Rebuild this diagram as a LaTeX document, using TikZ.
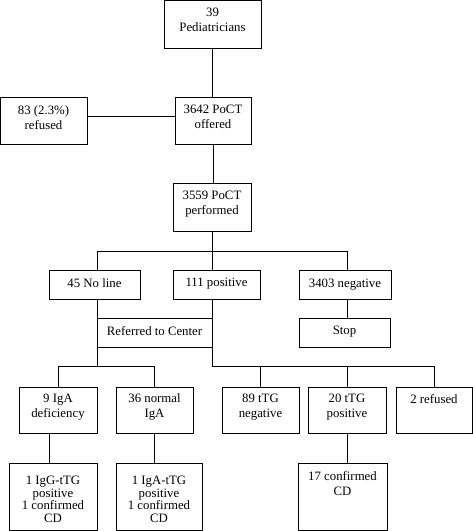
\documentclass[tikz,border=0pt]{standalone}
\usepackage{fontspec}
\setmainfont{Liberation Serif}
\usetikzlibrary{calc}
\tikzset{
  box/.style={draw=black, line width=0.9pt, inner sep=0pt, outer sep=0pt, anchor=north west, font=\fontsize{12.8}{15}\selectfont},
  conn/.style={draw=black, line width=0.9pt}
}
\newcommand{\bx}[8][15]{%
  \pgfmathsetmacro\bw{#4-#2}\pgfmathsetmacro\bh{#5-#3}%
  \node[box] (#6) at (#2,-#3) {\parbox[c][\bh pt][t]{\bw pt}{\centering\fontsize{12.8}{#1}\selectfont\vspace*{#7pt}#8\par}};}
\begin{document}
\begin{tikzpicture}[x=1pt,y=1pt]
\useasboundingbox (0,0) rectangle (473,-531);
\bx{164}{0}{261}{48}{ped}{8}{39\\Pediatricians}
\bx{0}{97}{87}{144}{ref}{8.5}{83 (2.3\%)\\refused}
\bx{175}{97}{251}{144}{off}{8.5}{3642 PoCT\\offered}
\bx{173}{183}{251}{231}{perf}{8}{3559 PoCT\\performed}
\bx{49}{270}{140}{299}{noline}{8.5}{45 No line}
\bx{173}{270}{260}{299}{pos}{8.5}{111 positive}
\bx{299}{270}{391}{299}{neg}{8.5}{3403 negative}
\bx{97}{318}{212}{347}{refc}{8.5}{Referred to Center}
\bx{299}{318}{390}{347}{stop}{8.5}{Stop}
\bx{19}{387}{97}{433}{iga}{7}{9 IgA\\deficiency}
\bx{116}{387}{193}{433}{norm}{7}{36 normal\\IgA}
\bx{222}{387}{299}{433}{tneg}{7}{89 tTG\\negative}
\bx{308}{387}{386}{433}{tpos}{7}{20 tTG\\positive}
\bx{396}{387}{472}{433}{tref}{7}{2 refused}
\bx[12.6]{9}{463}{97}{530}{c1}{13}{1 IgG-tTG\\positive\\1 confirmed\\CD}
\bx[12.6]{116}{463}{202}{530}{c2}{13}{1 IgA-tTG\\positive\\1 confirmed\\CD}
\bx{298}{463}{387}{530}{c3}{8}{17 confirmed\\CD}
% coordinates
\coordinate (bl) at (97,-251);
\coordinate (br) at (347,-251);
\coordinate (ll) at (58,-366);
\coordinate (lm) at (97,-366);
\coordinate (lr) at (154,-366);
\coordinate (rl) at (212,-366);
\coordinate (rr) at (434,-366);
% connectors
\draw[conn] (ped.south) -- (ped.south |- off.north);
\draw[conn] ([yshift=4.5pt]off.west) -- ([yshift=4.5pt]ref.east);
\draw[conn] (off.south) -- (off.south |- perf.north);
\draw[conn] (perf.south) -- (perf.south |- pos.north);
\draw[conn] (bl) -- (br);
\draw[conn] (bl) -- (bl |- noline.north);
\draw[conn] (br) -- (br |- neg.north);
\draw[conn] (bl |- noline.south) -- (refc.north west);
\draw[conn] (refc.south west) -- (lm);
\draw[conn] (ll) -- (lr);
\draw[conn] (ll) -- (ll |- iga.north);
\draw[conn] (lr) -- (lr |- norm.north);
\draw[conn] (pos.south -| rl) -- (rl);
\draw[conn] (rl) -- (rr);
\draw[conn] (neg.south -| br) -- (stop.north -| br);
\draw[conn] (tneg.north) -- (tneg.north |- rl);
\draw[conn] (tpos.north) -- (tpos.north |- rl);
\draw[conn] (rr) -- (rr |- tref.north);
\draw[conn] (iga.south -| 49,0) -- (c1.north -| 49,0);
\draw[conn] (norm.south -| 154,0) -- (c2.north -| 154,0);
\draw[conn] (tpos.south -| 347,0) -- (c3.north -| 347,0);
\end{tikzpicture}
\end{document}
